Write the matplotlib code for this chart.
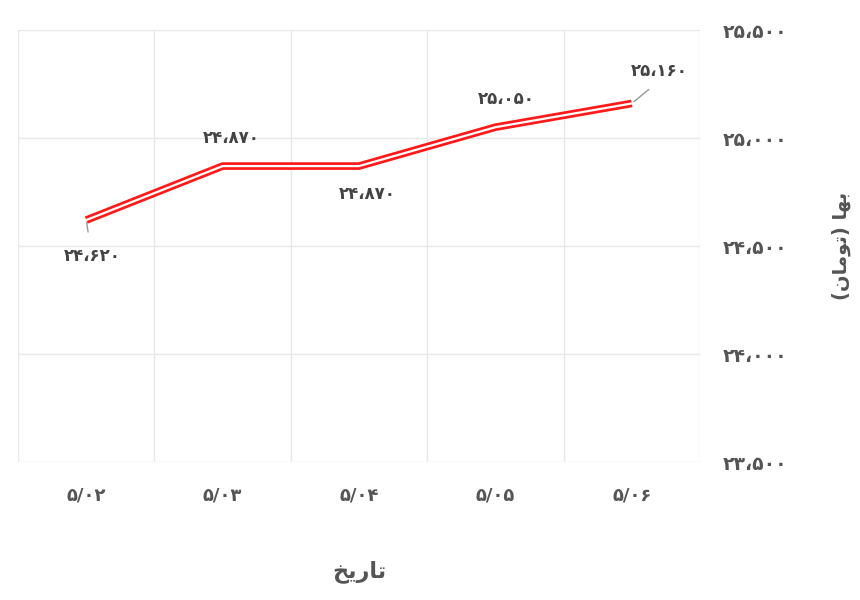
import matplotlib.pyplot as plt
import numpy as np

plt.rcParams['font.family'] = ['DejaVu Sans']

# data
dates = ['5/02', '5/03', '5/04', '5/05', '5/06']
prices = [24620, 24870, 24870, 25050, 25160]
yticks = [23500, 24000, 24500, 25000, 25500]
# label placement (offset points) for each value label
label_offsets = [(4, -26), (6, 20), (6, -20), (8, 20), (20, 23)]

FA = str.maketrans('0123456789', '۰۱۲۳۴۵۶۷۸۹')

def fa_num(v):
    return f'{v:,}'.replace(',', '\u060c').translate(FA)

def fa_date(s):
    m, d = s.split('/')
    return f'{m}/{int(d):02d}'.translate(FA)

# Arabic script written in visual order with presentation forms (matplotlib does no shaping)
xlabel_txt = '\uFEA6\uFEF3\uFEAD\uFE8E\uFE97'                    # تاریخ
ylabel_txt = '(\uFEE5\uFE8E\uFEE3\uFEEE\uFE97) \uFE8E\uFEEC\uFE91'  # بها (تومان)

fig = plt.figure(figsize=(8.6, 6), dpi=100)
ax = fig.add_axes([0.021, 0.23, 0.793, 0.72])

x = np.arange(len(dates))
ax.plot(x, prices, color='#ff1a1a', lw=5.5, solid_capstyle='butt', zorder=3)
ax.plot(x, prices, color='white', lw=1.6, solid_capstyle='butt', zorder=4)

for i, (xi, yi) in enumerate(zip(x, prices)):
    dx, dy = label_offsets[i]
    arrow = None
    if i == 0:
        arrow = dict(arrowstyle='-', color='#999999', lw=1, shrinkA=9, shrinkB=2)
    elif i == len(x) - 1:
        arrow = dict(arrowstyle='-', color='#999999', lw=1, shrinkA=7, shrinkB=2,
                     relpos=(0.5, 0.0))
    ax.annotate(fa_num(yi), (xi, yi), xytext=(dx, dy), textcoords='offset points',
                ha='center', va='center', fontsize=12, fontweight='bold',
                color='#444444', arrowprops=arrow, zorder=5)

ax.set_xlim(-0.5, len(dates) - 0.5)
ax.set_ylim(23500, 25500)
ax.set_xticks(x)
ax.set_xticklabels([fa_date(d) for d in dates], fontsize=13, fontweight='bold', color='#555555')
ax.set_xticks(np.arange(-0.5, len(dates)), minor=True)
ax.set_yticks(yticks)
ax.set_yticklabels([fa_num(v) for v in yticks], fontsize=13.5, fontweight='bold', color='#555555')
ax.yaxis.tick_right()
ax.yaxis.set_label_position('right')
ax.tick_params(axis='both', which='both', length=0)
ax.tick_params(axis='x', pad=18)
ax.tick_params(axis='y', pad=16)
ax.grid(True, which='minor', axis='x', color='#e8e8e8', lw=1)
ax.grid(True, which='major', axis='y', color='#e8e8e8', lw=1)
for s in ax.spines.values():
    s.set_visible(False)

ax.set_xlabel(xlabel_txt, fontsize=16, fontweight='bold', color='#555555', labelpad=40)
ax.set_ylabel(ylabel_txt, fontsize=14, fontweight='bold', color='#555555', rotation=90,
              labelpad=32)

fig.savefig('out.png', dpi=100)
